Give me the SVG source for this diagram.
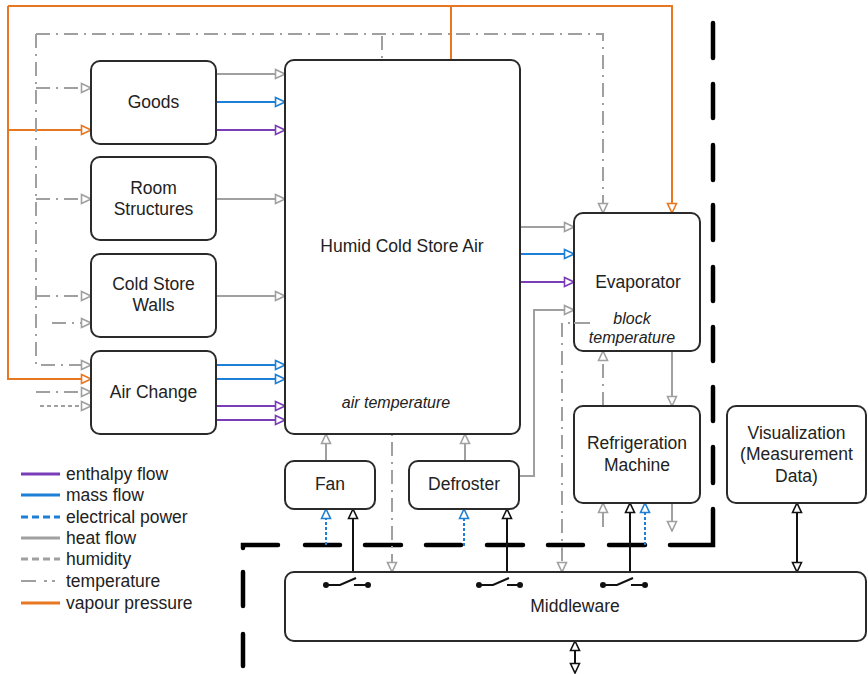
<svg xmlns="http://www.w3.org/2000/svg" width="868" height="674" viewBox="0 0 868 674">
<style>
.box{fill:#fff;stroke:#2a2a2a;stroke-width:2}
.t{font-family:"Liberation Sans",Arial,sans-serif;font-size:17.5px;fill:#222;text-anchor:middle}
.i{font-style:italic;font-size:16px}
.lg{font-family:"Liberation Sans",Arial,sans-serif;font-size:17.5px;fill:#222}
.c{fill:none;stroke-width:2;stroke-linejoin:miter}
.heat{stroke:#a0a0a0}
.temp{stroke:#a0a0a0;stroke-dasharray:14 6 2 6}
.hum{stroke:#a0a0a0;stroke-dasharray:4 3}
.mass{stroke:#1e7fd6}
.enth{stroke:#7a3db8}
.elec{stroke:#1e7fd6;stroke-dasharray:3 2}
.vap{stroke:#e87722}
.ctrl{stroke:#111}
.bnd{fill:none;stroke:#000;stroke-width:4.5;stroke-linecap:round}
.sw{stroke:#111;stroke-width:2;fill:none}
.dot{fill:#111}
</style>
<defs>
<marker id="ag" viewBox="0 0 12 12" markerWidth="12" markerHeight="12" refX="11" refY="6" orient="auto-start-reverse" markerUnits="userSpaceOnUse"><path d="M1.5,1.5 L11,6 L1.5,10.5 Z" fill="#fff" stroke="#a0a0a0" stroke-width="1.6" stroke-dasharray="none"/></marker>
<marker id="ab" viewBox="0 0 12 12" markerWidth="12" markerHeight="12" refX="11" refY="6" orient="auto-start-reverse" markerUnits="userSpaceOnUse"><path d="M1.5,1.5 L11,6 L1.5,10.5 Z" fill="#fff" stroke="#1e7fd6" stroke-width="1.6" stroke-dasharray="none"/></marker>
<marker id="ap" viewBox="0 0 12 12" markerWidth="12" markerHeight="12" refX="11" refY="6" orient="auto-start-reverse" markerUnits="userSpaceOnUse"><path d="M1.5,1.5 L11,6 L1.5,10.5 Z" fill="#fff" stroke="#7a3db8" stroke-width="1.6" stroke-dasharray="none"/></marker>
<marker id="ao" viewBox="0 0 12 12" markerWidth="12" markerHeight="12" refX="11" refY="6" orient="auto-start-reverse" markerUnits="userSpaceOnUse"><path d="M1.5,1.5 L11,6 L1.5,10.5 Z" fill="#fff" stroke="#e87722" stroke-width="1.6" stroke-dasharray="none"/></marker>
<marker id="ak" viewBox="0 0 12 12" markerWidth="12" markerHeight="12" refX="11" refY="6" orient="auto-start-reverse" markerUnits="userSpaceOnUse"><path d="M1.5,1.5 L11,6 L1.5,10.5 Z" fill="#fff" stroke="#111" stroke-width="1.6" stroke-dasharray="none"/></marker>
</defs>

<g id="boundary">
<path class="bnd" d="M243,548 V545 H278 M305,545 H340 M365,545 H401 M426,545 H461 M487,545 H523 M548,545 H583 M609,545 H645 M670,545 H713 V509 M243,572 V606 M243,634 V666 M713,23 V58 M713,84 V118 M713,145 V180 M713,205 V240 M713,267 V301 M713,327 V361 M713,387 V421 M713,447 V483"/>
</g>

<g id="connectors">
<!-- vapour pressure -->
<path class="c vap" d="M8,6 V379 H91" marker-end="url(#ao)"/>
<path class="c vap" d="M8,130 H91" marker-end="url(#ao)"/>
<path class="c vap" d="M8,6 H672 V213" marker-end="url(#ao)"/>
<path class="c vap" d="M451,6 V60"/>
<!-- temperature -->
<path class="c temp" d="M36,34 H603 V213" marker-end="url(#ag)"/>
<path class="c temp" d="M36,34 V365 H91" marker-end="url(#ag)"/>
<path class="c temp" d="M36,88 H91" marker-end="url(#ag)"/>
<path class="c temp" d="M36,199 H91" marker-end="url(#ag)"/>
<path class="c temp" d="M36,296 H91" marker-end="url(#ag)"/>
<path class="c temp" d="M52,323 H91" marker-end="url(#ag)"/>
<path class="c temp" d="M36,392 H91" marker-end="url(#ag)"/>
<path class="c temp" d="M382,36 V60"/>
<path class="c temp" d="M392,414 V572" marker-end="url(#ag)"/>
<path class="c temp" d="M590,323 H562 V572" marker-end="url(#ag)"/>
<path class="c temp" d="M603,406 V351" marker-end="url(#ag)"/>
<!-- humidity -->
<path class="c hum" d="M40,406 H91" marker-end="url(#ag)"/>
<!-- heat flow -->
<path class="c heat" d="M216,74 H285" marker-end="url(#ag)"/>
<path class="c heat" d="M216,199 H285" marker-end="url(#ag)"/>
<path class="c heat" d="M216,296 H285" marker-end="url(#ag)"/>
<path class="c heat" d="M520,227 H574" marker-end="url(#ag)"/>
<path class="c heat" d="M519,476 H534 V310 H574" marker-end="url(#ag)"/>
<path class="c heat" d="M326,461 V434" marker-end="url(#ag)"/>
<path class="c heat" d="M465,461 V434" marker-end="url(#ag)"/>
<path class="c heat" d="M672,351 V406" marker-end="url(#ag)"/>
<path class="c heat" d="M603,527 V503" marker-end="url(#ag)"/>
<path class="c heat" d="M672,503 V531" marker-end="url(#ag)"/>
<!-- mass flow -->
<path class="c mass" d="M216,102 H285" marker-end="url(#ab)"/>
<path class="c mass" d="M520,254 H574" marker-end="url(#ab)"/>
<path class="c mass" d="M216,365 H285" marker-end="url(#ab)"/>
<path class="c mass" d="M216,379 H285" marker-end="url(#ab)"/>
<!-- enthalpy flow -->
<path class="c enth" d="M216,130 H285" marker-end="url(#ap)"/>
<path class="c enth" d="M520,282 H574" marker-end="url(#ap)"/>
<path class="c enth" d="M216,406 H285" marker-end="url(#ap)"/>
<path class="c enth" d="M216,420 H285" marker-end="url(#ap)"/>
<!-- electrical power -->
<path class="c elec" d="M326,545 V509" marker-end="url(#ab)"/>
<path class="c elec" d="M463,545 H464 V509" marker-end="url(#ab)"/>
<path class="c elec" d="M645,545 V503" marker-end="url(#ab)"/>
<!-- control -->
<path class="c ctrl" d="M353,572 V509" marker-end="url(#ak)"/>
<path class="c ctrl" d="M507,572 V509" marker-end="url(#ak)"/>
<path class="c ctrl" d="M630,572 V503" marker-end="url(#ak)"/>
<path class="c ctrl" d="M797,503 V572" marker-start="url(#ak)" marker-end="url(#ak)"/>
<path class="c ctrl" d="M575,641 V673" marker-start="url(#ak)" marker-end="url(#ak)"/>
</g>

<g id="humid-air"><rect class="box" x="285" y="60" width="235" height="374" rx="9"/>
<text class="t" x="402" y="252">Humid Cold Store Air</text>
<text class="t i" x="396" y="408">air temperature</text></g>
<g id="goods"><rect class="box" x="91" y="61" width="125" height="83" rx="9"/><text class="t" x="153.5" y="108">Goods</text></g>
<g id="room-structures"><rect class="box" x="91" y="157" width="125" height="83" rx="9"/><text class="t" x="153.5" y="194">Room</text><text class="t" x="153.5" y="215">Structures</text></g>
<g id="cold-store-walls"><rect class="box" x="91" y="254" width="125" height="83" rx="9"/><text class="t" x="153.5" y="290">Cold Store</text><text class="t" x="153.5" y="311">Walls</text></g>
<g id="air-change"><rect class="box" x="91" y="351" width="125" height="83" rx="9"/><text class="t" x="153.5" y="398">Air Change</text></g>
<g id="evaporator"><rect class="box" x="574" y="213" width="126" height="138" rx="9"/>
<text class="t" x="638" y="288">Evaporator</text>
<text class="t i" x="632" y="324">block</text>
<text class="t i" x="632" y="343">temperature</text></g>
<path class="c heat" d="M574,323 H590"/>
<g id="refrigeration-machine"><rect class="box" x="574" y="406" width="126" height="97" rx="9"/><text class="t" x="637" y="449">Refrigeration</text><text class="t" x="637" y="471">Machine</text></g>
<g id="visualization"><rect class="box" x="727" y="406" width="139" height="97" rx="9"/><text class="t" x="796.5" y="439">Visualization</text><text class="t" x="796.5" y="460">(Measurement</text><text class="t" x="796.5" y="482">Data)</text></g>
<g id="fan"><rect class="box" x="285" y="461" width="90" height="48" rx="9"/><text class="t" x="330" y="490">Fan</text></g>
<g id="defroster"><rect class="box" x="409" y="461" width="110" height="48" rx="9"/><text class="t" x="464" y="490">Defroster</text></g>
<g id="middleware"><rect class="box" x="285" y="572" width="581" height="69" rx="9"/><text class="t" x="575" y="612">Middleware</text>
<path class="sw" d="M326,585 H340 L356,578 M354,585 H368"/><circle class="dot" cx="326" cy="585" r="3"/><circle class="dot" cx="368" cy="585" r="3"/>
<path class="sw" d="M479,585 H493 L509,578 M507,585 H520"/><circle class="dot" cx="479" cy="585" r="3"/><circle class="dot" cx="520" cy="585" r="3"/>
<path class="sw" d="M603,585 H617 L633,578 M631,585 H645"/><circle class="dot" cx="603" cy="585" r="3"/><circle class="dot" cx="645" cy="585" r="3"/>
</g>

<g id="legend">
<line x1="21" y1="474" x2="60" y2="474" stroke="#7a3db8" stroke-width="3"/>
<line x1="21" y1="495" x2="60" y2="495" stroke="#1e7fd6" stroke-width="3"/>
<line x1="21" y1="517" x2="60" y2="517" stroke="#1e7fd6" stroke-width="3" stroke-dasharray="7 4"/>
<line x1="21" y1="538" x2="60" y2="538" stroke="#a0a0a0" stroke-width="3"/>
<line x1="21" y1="559" x2="60" y2="559" stroke="#a0a0a0" stroke-width="3" stroke-dasharray="7 4"/>
<line x1="21" y1="581" x2="60" y2="581" stroke="#a0a0a0" stroke-width="2" stroke-dasharray="15 8 3 5 3 10"/>
<line x1="21" y1="603" x2="60" y2="603" stroke="#e87722" stroke-width="3"/>
<text class="lg" x="66" y="480">enthalpy flow</text>
<text class="lg" x="66" y="501">mass flow</text>
<text class="lg" x="66" y="523">electrical power</text>
<text class="lg" x="66" y="544">heat flow</text>
<text class="lg" x="66" y="565">humidity</text>
<text class="lg" x="66" y="587">temperature</text>
<text class="lg" x="66" y="609">vapour pressure</text>
</g>
</svg>
